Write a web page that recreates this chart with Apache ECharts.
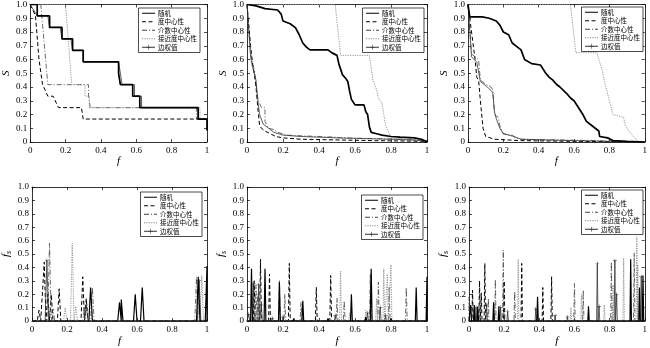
<!DOCTYPE html>
<html><head><meta charset="utf-8">
<script src="https://cdn.jsdelivr.net/npm/echarts@6/dist/echarts.min.js"></script>
<style>html,body{margin:0;padding:0;background:#fff}#c{width:650px;height:348px}</style>
</head><body><div id="c"></div>
<script>
const NAMES = ['随机','度中心性','介数中心性','接近度中心性','边权值'];
const xTicks = [0,0.2,0.4,0.6,0.8,1];
const yTicks = [0,0.1,0.2,0.3,0.4,0.5,0.6,0.7,0.8,0.9,1.0];

// Top row: S vs f curves
const TL_rand = [[0,1],[0.04,1],[0.04,0.917],[0.11,0.917],[0.11,0.833],[0.18,0.833],[0.18,0.75],[0.24,0.75],[0.24,0.667],[0.3,0.667],[0.3,0.583],[0.5,0.583],[0.5,0.5],[0.51,0.5],[0.51,0.417],[0.58,0.417],[0.58,0.333],[0.62,0.333],[0.62,0.25],[0.95,0.25],[0.95,0.167],[1,0.167],[1,0.083]];
const TL_deg = [[0,1],[0.03,0.92],[0.05,0.6],[0.07,0.42],[0.1,0.333],[0.13,0.333],[0.16,0.25],[0.29,0.25],[0.3,0.167],[1,0.167]];
const TL_btw = [[0,1],[0.06,1],[0.1,0.417],[0.33,0.417],[0.33,0.333],[0.34,0.333],[0.34,0.25],[0.94,0.25],[0.94,0.167],[1,0.167]];
const TL_clo = [[0,1],[0.2,1],[0.235,0.417],[0.31,0.417],[0.31,0.333],[0.335,0.333],[0.335,0.25],[0.96,0.25],[0.96,0.167],[1,0.167]];
const TL_edge = [[0,1],[0.01,1],[0.04,0.917],[0.1,0.917],[0.11,0.833],[0.17,0.833],[0.18,0.75],[0.23,0.75],[0.24,0.667],[0.3,0.667],[0.3,0.583],[0.5,0.583],[0.51,0.5],[0.52,0.417],[0.59,0.417],[0.59,0.333],[0.63,0.333],[0.63,0.25],[0.95,0.25],[0.95,0.167],[1,0.167]];

const TM_rand = [[0,1],[0.05,0.99],[0.1,0.97],[0.17,0.96],[0.19,0.93],[0.2,0.88],[0.24,0.86],[0.27,0.83],[0.29,0.78],[0.31,0.72],[0.33,0.69],[0.35,0.67],[0.45,0.67],[0.47,0.65],[0.5,0.63],[0.51,0.57],[0.52,0.53],[0.53,0.49],[0.55,0.46],[0.56,0.44],[0.57,0.37],[0.58,0.31],[0.6,0.27],[0.65,0.27],[0.66,0.22],[0.67,0.2],[0.68,0.11],[0.69,0.07],[0.72,0.06],[0.75,0.05],[0.8,0.04],[0.85,0.035],[0.93,0.03],[0.97,0.02],[1,0.0]];
const TM_deg = [[0,1],[0.02,0.7],[0.03,0.58],[0.04,0.5],[0.05,0.4],[0.06,0.25],[0.07,0.12],[0.08,0.1],[0.1,0.08],[0.13,0.06],[0.16,0.04],[0.2,0.03],[0.3,0.02],[0.5,0.015],[0.7,0.01],[1,0.005]];
const TM_btw = [[0,1],[0.02,0.65],[0.03,0.57],[0.04,0.53],[0.05,0.42],[0.06,0.32],[0.07,0.28],[0.08,0.25],[0.1,0.25],[0.1,0.15],[0.11,0.14],[0.12,0.1],[0.15,0.09],[0.17,0.07],[0.2,0.06],[0.22,0.05],[0.3,0.045],[0.4,0.04],[0.5,0.035],[0.52,0.03],[0.7,0.025],[0.9,0.02],[1,0.01]];
const TM_clo = [[0,1],[0.49,1],[0.52,0.63],[0.68,0.63],[0.7,0.45],[0.72,0.38],[0.73,0.32],[0.75,0.28],[0.76,0.2],[0.77,0.12],[0.79,0.06],[0.8,0.03],[0.85,0.02],[1,0.01]];
const TM_edge = [[0,1],[0.02,0.62],[0.03,0.55],[0.05,0.45],[0.06,0.3],[0.07,0.2],[0.09,0.13],[0.12,0.1],[0.15,0.07],[0.2,0.05],[0.3,0.04],[0.5,0.03],[0.8,0.02],[1,0.01]];

const TR_rand = [[0,1],[0.01,0.91],[0.08,0.91],[0.12,0.9],[0.16,0.88],[0.18,0.85],[0.2,0.8],[0.23,0.78],[0.25,0.72],[0.28,0.69],[0.3,0.67],[0.32,0.6],[0.36,0.57],[0.41,0.56],[0.44,0.5],[0.46,0.47],[0.48,0.45],[0.5,0.42],[0.52,0.4],[0.56,0.35],[0.58,0.32],[0.6,0.3],[0.62,0.26],[0.63,0.24],[0.65,0.2],[0.67,0.15],[0.7,0.12],[0.74,0.08],[0.745,0.04],[0.79,0.03],[0.82,0.01],[0.9,0.005],[1,0]];
const TR_deg = [[0,1],[0.02,0.8],[0.04,0.6],[0.05,0.47],[0.06,0.45],[0.07,0.3],[0.085,0.1],[0.1,0.04],[0.15,0.02],[0.3,0.01],[0.6,0.005],[1,0]];
const TR_btw = [[0,1],[0.02,0.64],[0.06,0.6],[0.07,0.45],[0.1,0.42],[0.13,0.4],[0.14,0.38],[0.15,0.2],[0.17,0.18],[0.18,0.12],[0.2,0.06],[0.25,0.05],[0.27,0.03],[0.3,0.02],[0.5,0.015],[0.75,0.01],[0.8,0]];
const TR_clo = [[0,1],[0.58,1],[0.61,0.65],[0.73,0.65],[0.74,0.6],[0.76,0.52],[0.77,0.45],[0.78,0.4],[0.8,0.3],[0.82,0.2],[0.88,0.18],[0.89,0.12],[0.91,0.08],[0.93,0.05],[0.95,0.02],[0.97,0],[1,0]];
const TR_edge = [[0,1],[0.02,0.62],[0.05,0.58],[0.07,0.44],[0.11,0.4],[0.14,0.36],[0.15,0.22],[0.16,0.17],[0.18,0.1],[0.2,0.06],[0.26,0.04],[0.3,0.02],[0.6,0.01],[0.8,0.005],[1,0]];

// Bottom row: fs spikes [f, fs]
const BL_rand = [[0.335,0.25],[0.5,0.14],[0.51,0.16],[0.59,0.2],[0.63,0.25],[0.95,0.33],[1.0,0.41]];
const BL_deg = [[0.04,0.08],[0.07,0.44],[0.09,0.2],[0.11,0.2],[0.155,0.24],[0.29,0.33],[0.31,0.17]];
const BL_btw = [[0.1,0.58],[0.12,0.09],[0.3,0.1],[0.345,0.25],[0.94,0.33]];
const BL_clo = [[0.19,0.1],[0.23,0.58],[0.25,0.11],[0.97,0.34]];
const BL_edge = [[0.085,0.45],[0.31,0.12],[0.955,0.3]];

const BM_rand = [[0.025,0.39],[0.1,0.39],[0.18,0.29],[0.26,0.02],[0.31,0.15],[0.45,0.02],[0.58,0.2],[0.66,0.03],[0.69,0.39],[0.94,0.25],[1.0,0.33]];
const BM_deg = [[0.04,0.3],[0.075,0.46],[0.125,0.35],[0.235,0.43],[0.385,0.25],[0.465,0.34],[0.8,0.03]];
const BM_btw = [[0.05,0.27],[0.06,0.2],[0.18,0.3],[0.21,0.2],[0.3,0.14],[0.5,0.17],[0.54,0.15],[0.685,0.35],[0.73,0.29],[0.79,0.25],[0.885,0.25]];
const BM_clo = [[0.52,0.37],[0.57,0.06],[0.66,0.08],[0.72,0.17],[0.76,0.39],[0.78,0.35],[0.8,0.42]];
const BM_edge = [[0.01,0.05],[0.035,0.28],[0.065,0.27],[0.08,0.12],[0.14,0.02],[0.2,0.03],[0.49,0.04],[0.67,0.06],[0.74,0.1],[0.77,0.04]];

const BR_rand = [[0.01,0.12],[0.03,0.12],[0.05,0.11],[0.14,0.14],[0.17,0.11],[0.39,0.18],[0.68,0.11],[0.92,0.46],[0.97,0.25],[0.99,0.34]];
const BR_deg = [[0.02,0.23],[0.06,0.3],[0.07,0.21],[0.09,0.43],[0.2,0.3],[0.3,0.43],[0.42,0.25],[0.47,0.33]];
const BR_btw = [[0.0,0.18],[0.11,0.17],[0.15,0.31],[0.195,0.53],[0.26,0.22],[0.6,0.28],[0.65,0.23],[0.81,0.44],[0.94,0.51]];
const BR_clo = [[0.28,0.46],[0.58,0.1],[0.64,0.2],[0.77,0.12],[0.82,0.27],[0.88,0.47],[0.955,0.63],[0.96,0.42]];
const BR_edge = [[0.04,0.1],[0.1,0.12],[0.18,0.1],[0.22,0.07],[0.38,0.09],[0.49,0.04],[0.56,0.03],[0.73,0.43],[0.74,0.11],[0.83,0.45],[0.84,0.2],[0.98,0.33]];

const TOP = [[TL_rand,TL_deg,TL_btw,TL_clo,TL_edge],[TM_rand,TM_deg,TM_btw,TM_clo,TM_edge],[TR_rand,TR_deg,TR_btw,TR_clo,TR_edge]];
const BOT = [[BL_rand,BL_deg,BL_btw,BL_clo,BL_edge],[BM_rand,BM_deg,BM_btw,BM_clo,BM_edge],[BR_rand,BR_deg,BR_btw,BR_clo,BR_edge]];
const halfW = [0.01,0.005,0.004];

function spikes(arr, w){
  const base = x => ({value:[x,0], symbol:'none'});
  const pts=[base(0)];
  arr.slice().sort((a,b)=>a[0]-b[0]).forEach(s=>{
    pts.push(base(Math.max(0,s[0]-w))); pts.push({value:[s[0],s[1]]}); pts.push(base(Math.min(1,s[0]+w)));
  });
  pts.push(base(1));
  return pts;
}

const STY = [
  {color:'#000', width:1.7, type:'solid'},
  {color:'#000', width:1, type:[4,2.5]},
  {color:'#444', width:0.8, type:[5,2,1,2]},
  {color:'#8a8a8a', width:0.9, type:[1.2,1.2]},
  {color:'#333', width:0.8, type:'solid'}
];
const PLUS = 'path://M4.4,0H5.6V4.4H10V5.6H5.6V10H4.4V5.6H0V4.4H4.4Z';

const grids = [
  {left:27, top:3, width:180, height:139},
  {left:247, top:3, width:180, height:139},
  {left:468, top:3, width:179, height:139},
  {left:27, top:187, width:180, height:138},
  {left:247, top:187, width:180, height:138},
  {left:469, top:187, width:176, height:138}
];
const legPos = [
  {right:450, top:8},{right:226, top:8},{right:7, top:7},
  {right:448, top:192},{right:227, top:195},{right:7, top:190}
];

const FONT = 'Liberation Serif';
const xAxis=[], yAxis=[], series=[], legend=[];
grids.forEach((g,i)=>{
  const bottomRow = i>=3;
  const base = {type:'value', min:0, max:1, gridIndex:i, splitLine:{show:false},
    axisLine:{show:true, onZero:false, lineStyle:{color:'#000', width:0.8}},
    axisTick:{show:true, inside:true, length:3, lineStyle:{color:'#000', width:0.7}}};
  xAxis.push(Object.assign({}, base, {position:'bottom', interval:0.2,
    axisLabel:{fontFamily:FONT, fontSize:9, color:'#000', margin:4,
      formatter:v=> (v===0||v===1)? String(v) : v.toFixed(1)},
    name:'f', nameLocation:'middle', nameGap:bottomRow?15:14,
    nameTextStyle:{fontFamily:FONT, fontStyle:'italic', fontSize:11, color:'#000'}}));
  xAxis.push(Object.assign({}, base, {position:'top', interval:0.2, axisLabel:{show:false}}));
  yAxis.push(Object.assign({}, base, {position:'left', interval:0.1,
    axisLabel:{fontFamily:FONT, fontSize:9, color:'#000', margin:3,
      formatter:v=> v===0 ? '0' : v.toFixed(1)},
    name: bottomRow ? '{i|f}{s|s}' : 'S', nameLocation:'middle', nameRotate:90, nameGap:bottomRow?19:18,
    nameTextStyle:{fontFamily:FONT, fontStyle:'italic', fontSize:11, color:'#000',
      rich:{i:{fontFamily:FONT, fontStyle:'italic', fontSize:11, color:'#000'},
            s:{fontFamily:FONT, fontStyle:'italic', fontSize:8, color:'#000', padding:[5,0,0,0]}}}}));
  yAxis.push(Object.assign({}, base, {position:'right', interval:0.1, axisLabel:{show:false}}));

  const set = bottomRow ? BOT[i-3] : TOP[i];
  set.forEach((arr,k)=>{
    const data = bottomRow ? spikes(arr, halfW[i-3]) : arr;
    const ls = Object.assign({}, STY[k]);
    if(bottomRow && k===0) ls.width = 1.2;
    const s = {name:NAMES[k], type:'line', xAxisIndex:2*i, yAxisIndex:2*i, data:data,
      lineStyle:ls, itemStyle:{color:STY[k].color}, animation:false, silent:true,
      symbol:'none', z: k===0?5:3};
    if(k===4){ s.symbol=PLUS; s.symbolSize=4; s.showSymbol = bottomRow; }
    series.push(s);
  });
  legend.push(Object.assign({
    data: NAMES.map((n,k)=> k===4 ? {name:n, itemStyle:{opacity:1}} : {name:n}),
    orient:'vertical',
    itemWidth:13, itemHeight:6, itemGap:2, padding:[2,3,2,3],
    itemStyle:{opacity:0}, lineStyle:{width:1},
    backgroundColor:'#fff', borderColor:'#000', borderWidth:0.7, selectedMode:false,
    textStyle:{fontFamily:'Noto Sans CJK SC', fontSize:6.5, color:'#000', padding:[0,0,0,-2]}}, legPos[i]));
});

const chart = echarts.init(document.getElementById('c'), null, {renderer:'canvas'});
chart.setOption({animation:false, backgroundColor:'#fff', grid:grids, xAxis, yAxis, series, legend});
</script></body></html>
